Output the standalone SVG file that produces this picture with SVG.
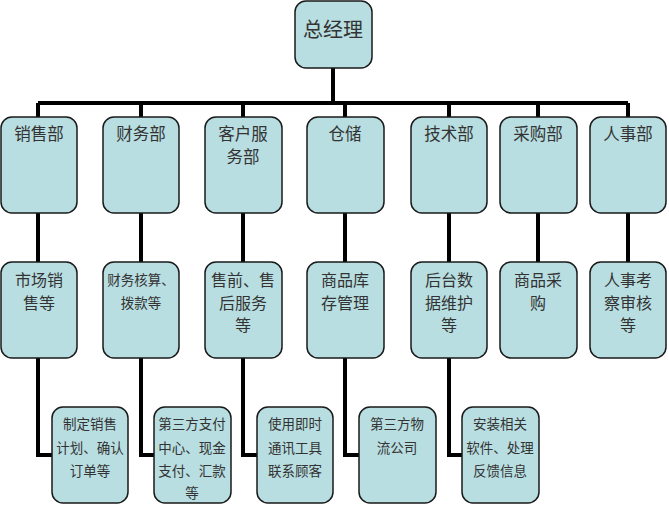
<svg xmlns="http://www.w3.org/2000/svg" width="669" height="505" viewBox="0 0 669 505">
<style>
.box{fill:#B8DEE1;stroke:#1a1a1a;stroke-width:1.5}
.ln{fill:none;stroke:#000;stroke-width:4}
text{font-family:"Noto Sans CJK SC",sans-serif;fill:#333;text-anchor:middle;dominant-baseline:central}
.t0{font-size:20px}
.t1{font-size:16.5px}
.t2{font-size:16px}
.t2s{font-size:13.5px}
.t3{font-size:13.5px}
</style>
<rect width="669" height="505" fill="#fff"/>
<g id="connectors">
<path class="ln" d="M333 68V103M38 103H628M38 103V117M141 103V117M243 103V117M345 103V117M449 103V117M538 103V117M628 103V117"/>
<path class="ln" d="M38 213V262M141 213V262M243 213V262M345 213V262M449 213V262M538 213V262M628 213V262"/>
<path class="ln" d="M38 358V455H52M141 358V455H154M243 358V455H257M345 358V455H359M449 358V455H462"/>
</g>
<g id="n0"><rect class="box" x="295" y="1" width="77" height="67" rx="11"/><text class="t0" x="333" y="28">总经理</text></g>
<g id="n1"><rect class="box" x="1" y="117" width="76" height="96" rx="11"/><text class="t1" x="39" y="133">销售部</text></g>
<g id="n2"><rect class="box" x="103" y="117" width="76" height="96" rx="11"/><text class="t1" x="141" y="133">财务部</text></g>
<g id="n3"><rect class="box" x="205" y="117" width="77" height="96" rx="11"/><text class="t1" x="243" y="133">客户服</text><text class="t1" x="243" y="156">务部</text></g>
<g id="n4"><rect class="box" x="307" y="117" width="77" height="96" rx="11"/><text class="t1" x="345" y="133">仓储</text></g>
<g id="n5"><rect class="box" x="411" y="117" width="76" height="96" rx="11"/><text class="t1" x="449" y="133">技术部</text></g>
<g id="n6"><rect class="box" x="500" y="117" width="77" height="96" rx="11"/><text class="t1" x="538" y="133">采购部</text></g>
<g id="n7"><rect class="box" x="590" y="117" width="76" height="96" rx="11"/><text class="t1" x="628" y="133">人事部</text></g>
<g id="n11"><rect class="box" x="1" y="262" width="76" height="96" rx="11"/><text class="t2" x="39" y="279">市场销</text><text class="t2" x="39" y="302">售等</text></g>
<g id="n21"><rect class="box" x="103" y="262" width="76" height="96" rx="11"/><text class="t2s" x="141" y="279">财务核算、</text><text class="t2s" x="141" y="302">拨款等</text></g>
<g id="n31"><rect class="box" x="205" y="262" width="77" height="96" rx="11"/><text class="t2" x="243" y="279">售前、售</text><text class="t2" x="243" y="302">后服务</text><text class="t2" x="243" y="324">等</text></g>
<g id="n41"><rect class="box" x="307" y="262" width="77" height="96" rx="11"/><text class="t2" x="345" y="279">商品库</text><text class="t2" x="345" y="302">存管理</text></g>
<g id="n51"><rect class="box" x="411" y="262" width="76" height="96" rx="11"/><text class="t2" x="449" y="279">后台数</text><text class="t2" x="449" y="302">据维护</text><text class="t2" x="449" y="324">等</text></g>
<g id="n61"><rect class="box" x="500" y="262" width="77" height="96" rx="11"/><text class="t2" x="538" y="279">商品采</text><text class="t2" x="538" y="302">购</text></g>
<g id="n71"><rect class="box" x="590" y="262" width="76" height="96" rx="11"/><text class="t2" x="628" y="279">人事考</text><text class="t2" x="628" y="302">察审核</text><text class="t2" x="628" y="324">等</text></g>
<g id="n12"><rect class="box" x="52" y="407" width="76" height="96" rx="11"/><text class="t3" x="90" y="423">制定销售</text><text class="t3" x="90" y="447">计划、确认</text><text class="t3" x="90" y="470">订单等</text></g>
<g id="n22"><rect class="box" x="154" y="407" width="77" height="96" rx="11"/><text class="t3" x="192" y="423">第三方支付</text><text class="t3" x="192" y="447">中心、现金</text><text class="t3" x="192" y="470">支付、汇款</text><text class="t3" x="192" y="492">等</text></g>
<g id="n32"><rect class="box" x="257" y="407" width="76" height="96" rx="11"/><text class="t3" x="295" y="423">使用即时</text><text class="t3" x="295" y="447">通讯工具</text><text class="t3" x="295" y="470">联系顾客</text></g>
<g id="n42"><rect class="box" x="359" y="407" width="77" height="96" rx="11"/><text class="t3" x="397" y="423">第三方物</text><text class="t3" x="397" y="447">流公司</text></g>
<g id="n52"><rect class="box" x="462" y="407" width="77" height="96" rx="11"/><text class="t3" x="500" y="423">安装相关</text><text class="t3" x="500" y="447">软件、处理</text><text class="t3" x="500" y="470">反馈信息</text></g>
</svg>
